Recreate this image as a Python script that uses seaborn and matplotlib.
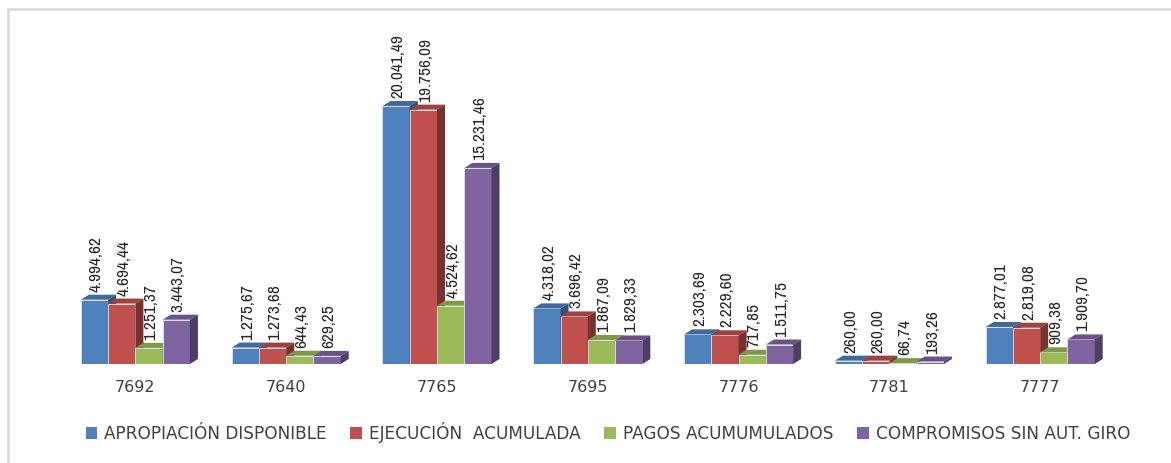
import numpy as np
import pandas as pd
import seaborn as sns
import matplotlib
matplotlib.use("Agg")
import matplotlib.pyplot as plt
import matplotlib.colors as mcolors
from matplotlib.patches import Polygon, Patch
from matplotlib.lines import Line2D
from matplotlib import font_manager

# ---------------- data ----------------
proyectos = ["7692", "7640", "7765", "7695", "7776", "7781", "7777"]
series = ["APROPIACIÓN DISPONIBLE", "EJECUCIÓN  ACUMULADA",
          "PAGOS ACUMUMULADOS", "COMPROMISOS SIN AUT. GIRO"]
apropiacion = [4994.62, 1275.67, 20041.49, 4318.02, 2303.69, 260.00, 2877.01]
ejecucion = [4694.44, 1273.68, 19756.09, 3696.42, 2229.60, 260.00, 2819.08]
pagos = [1251.37, 644.43, 4524.62, 1867.09, 717.85, 66.74, 909.38]
compromisos = [3443.07, 629.25, 15231.46, 1829.33, 1511.75, 193.26, 1909.70]
colores = ["#4F81BD", "#C0504D", "#9BBB59", "#8064A2"]

valores = [apropiacion, ejecucion, pagos, compromisos]
df = pd.DataFrame({
    "proyecto": np.repeat([proyectos], 4, axis=0).ravel(),
    "serie": np.repeat(series, len(proyectos)),
    "valor": np.concatenate(valores),
})

sns.set_theme(style="white")
plt.rcParams["font.family"] = ["DejaVu Sans"]

# pick a narrow face for the value labels
installed = {f.name for f in font_manager.fontManager.ttflist}
narrow = "DejaVu Sans"
for name in ["Liberation Sans Narrow", "Archivo Narrow", "Asap Condensed"]:
    if name in installed:
        narrow = name
        break

W, H = 1171, 464
fig = plt.figure(figsize=(W / 100, H / 100), dpi=100)
ax_l, ax_r, ax_b, ax_t = 60, 1115.6, 365, 56
ax = fig.add_axes([ax_l / W, 1 - ax_b / H, (ax_r - ax_l) / W, (ax_b - ax_t) / H])

sns.barplot(data=df, x="proyecto", y="valor", hue="serie", order=proyectos,
            hue_order=series, palette=colores, saturation=1, width=0.723,
            ax=ax, legend=False, linewidth=0.6, edgecolor="#dfe6f0",
            errorbar=None)

ymax = 24000
ax.set_xlim(-0.5, 6.5)
ax.set_ylim(0, ymax)
for s in ax.spines.values():
    s.set_visible(False)
ax.set_yticks([])
ax.set_xlabel("")
ax.set_ylabel("")
ax.tick_params(axis="x", length=0, pad=11, labelsize=11.5, labelcolor="#404040")

# 3D effect
xpp = 7 / (ax_r - ax_l)
ypp = ymax / (ax_b - ax_t)
ddx, ddy = 8 * xpp, 5 * ypp
patches = sorted(ax.patches, key=lambda p: p.get_x())
for i, p in enumerate(patches):
    x0, w, h = p.get_x(), p.get_width(), p.get_height()
    c = np.array(mcolors.to_rgb(p.get_facecolor()))
    z = 3 + 3 * i
    p.set_zorder(z)
    top = Polygon([(x0, h), (x0 + w, h), (x0 + w + ddx, h + ddy), (x0 + ddx, h + ddy)],
                  closed=True, facecolor=c * 0.82, edgecolor="none", zorder=z + 1)
    side = Polygon([(x0 + w, 0), (x0 + w + ddx, ddy), (x0 + w + ddx, h + ddy), (x0 + w, h)],
                   closed=True, facecolor=c * 0.62, edgecolor="none", zorder=z + 1)
    ax.add_patch(top)
    ax.add_patch(side)
    txt = f"{h:,.2f}".replace(",", "X").replace(".", ",").replace("X", ".")
    ax.annotate(txt, xy=(x0 + w / 2, h), xytext=(2, 9), textcoords="offset pixels",
                rotation=90, ha="center", va="bottom", fontsize=12.5,
                family=narrow, color="#262626", zorder=200, annotation_clip=False)

# border lines (top / left)
fig.add_artist(Line2D([8 / W, 8 / W], [0, 1 - 10 / H], transform=fig.transFigure,
                      color="#d9d9d9", lw=1.8))
fig.add_artist(Line2D([8 / W, 1], [1 - 10 / H, 1 - 10 / H], transform=fig.transFigure,
                      color="#d9d9d9", lw=1.8))

handles = [Patch(facecolor=c, edgecolor="none") for c in colores]
fig.legend(handles, series, loc="center", bbox_to_anchor=(608 / W, 1 - 433 / H),
           ncol=4, frameon=False, handlelength=0.7, handleheight=0.7,
           handletextpad=0.4, columnspacing=1.4, fontsize=12.2,
           labelcolor="#404040")

fig.savefig("out.png", dpi=100, facecolor="white")
